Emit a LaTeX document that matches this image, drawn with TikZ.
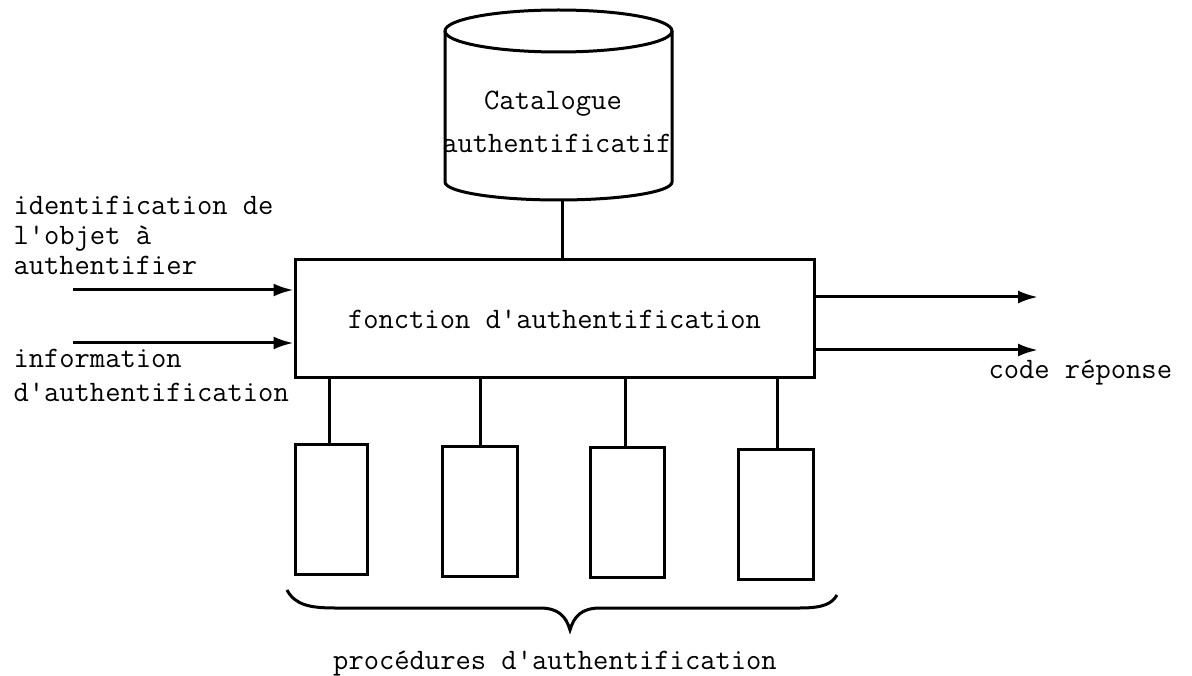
\documentclass[tikz,border=0pt]{standalone}
\usepackage{fontspec}
\usetikzlibrary{arrows.meta}
\newcommand{\q}{\textquotesingle}
\begin{document}
\begin{tikzpicture}[x=1pt,y=-1pt,line width=3pt,
  lbl/.style={inner sep=0pt,font=\ttfamily\fontsize{29.7}{32}\selectfont},
  proc/.style={draw,inner sep=0pt,minimum width=74pt,minimum height=130pt},
  arr/.style={-{Latex[length=20pt,width=13pt]}}]
\useasboundingbox (0,0) rectangle (1192,676);
% catalogue cylinder
\node[inner sep=0pt,minimum width=227pt,minimum height=190pt] (cat) at (558.5,105) {};
\draw (558.5,31) ellipse [x radius=113.5, y radius=21];
\draw (445,31) -- (445,182) arc[start angle=180,end angle=0,x radius=113.5,y radius=18] -- (672,31);
\node[lbl,anchor=base] (cat1) at (553,110) {Catalogue};
\node[lbl,anchor=base] (cat2) at (557,153) {authentificatif};
\coordinate (catb) at (562,200);
% main function box
\node[draw,inner sep=0pt,minimum width=519pt,minimum height=118pt,font=\ttfamily\fontsize{29.7}{32}\selectfont] (fa) at (554.5,319) {fonction d\q authentification};
\draw (catb) -- (catb |- fa.north);
% inputs
\coordinate (i1) at (73,290);
\coordinate (i2) at (73,343);
\draw[arr] (i1) -- (i1 -| fa.west);
\draw[arr] (i2) -- (i2 -| fa.west);
\node[lbl,anchor=base west] (t1) at (12,215) {identification de};
\node[lbl,anchor=base west] (t2) at (12,245) {l\q objet à};
\node[lbl,anchor=base west] (t3) at (12,275) {authentifier};
\node[lbl,anchor=base west] (t4) at (12,368) {information};
\node[lbl,anchor=base west] (t5) at (12,401) {d\q authentification};
% outputs
\coordinate (o1) at (1038,297);
\coordinate (o2) at (1038,350);
\draw[arr] (o1 -| fa.east) -- (o1);
\draw[arr] (o2 -| fa.east) -- (o2);
\node[lbl,anchor=base west] (cr) at (987,378) {code réponse};
% procedures
\node[proc,minimum width=72pt] (b1) at (331,509) {};
\node[proc,minimum width=75pt] (b2) at (479.5,511) {};
\node[proc] (b3) at (627,512.5) {};
\node[proc,minimum width=75pt] (b4) at (775.5,514.5) {};
\draw (329,0 |- fa.south) -- (329,0 |- b1.north);
\draw (480,0 |- fa.south) -- (480,0 |- b2.north);
\draw (625,0 |- fa.south) -- (625,0 |- b3.north);
\draw (777,0 |- fa.south) -- (777,0 |- b4.north);
% brace
\coordinate (bl) at (287,590);
\coordinate (tip) at (570,630);
\coordinate (br) at (837,595);
\draw (bl) .. controls (295,605) and (310,608) .. (335,608) -- (540,608)
  .. controls (558,608) and (566,616) .. (tip)
  .. controls (574,616) and (582,608) .. (600,608) -- (800,608)
  .. controls (825,608) and (832,603) .. (br);
\node[lbl,anchor=base] (pa) at (555,669) {procédures d\q authentification};
\end{tikzpicture}
\end{document}
